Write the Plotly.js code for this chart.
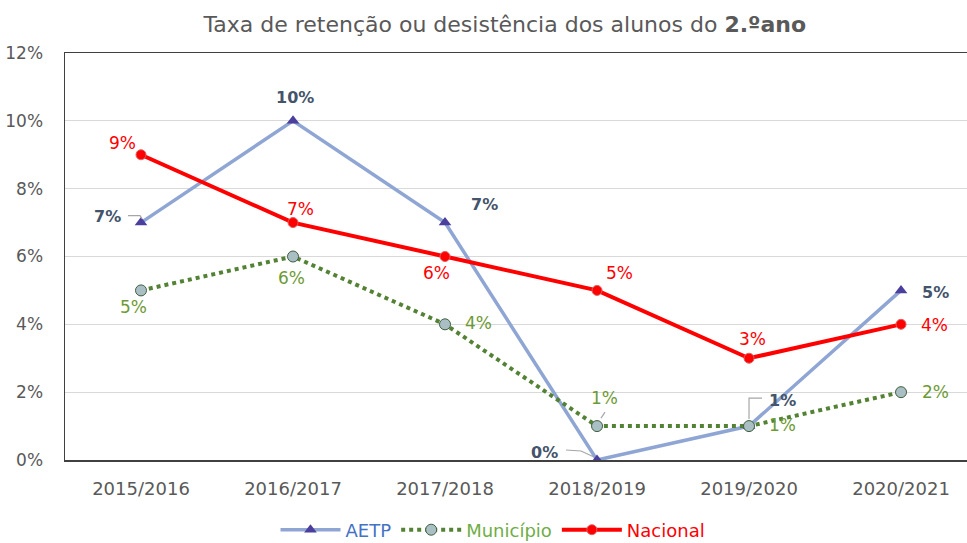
<!DOCTYPE html>
<html><head><meta charset="utf-8">
<script src="https://cdn.plot.ly/plotly-3.0.1.min.js"></script>
<style>html,body{margin:0;padding:0;background:#fff}#c{width:967px;height:543px}</style>
</head><body><div id="c"></div>
<script>
const years = ["2015/2016","2016/2017","2017/2018","2018/2019","2019/2020","2020/2021"];
const aetp = [0.07,0.10,0.07,0.00,0.01,0.05];
const municipio = [0.05,0.06,0.04,0.01,0.01,0.02];
const nacional = [0.09,0.07,0.06,0.05,0.03,0.04];
const aetpLabels = ["7%","10%","7%","0%","1%","5%"];
const munLabels = ["5%","6%","4%","1%","1%","2%"];
const nacLabels = ["9%","7%","6%","5%","3%","4%"];

// label offsets (px) from each point
const aetpOff = [[-34,6],[2,23],[39,18],[-53,8],[33,26],[34,-2]];
const munOff = [[-8,-17],[-2,-21],[33,1],[7,28],[33,1],[34,0]];
const nacOff = [[-19,12],[7,14],[-9,-16],[22,17],[3,19],[33,-1]];

const FONT = "DejaVu Sans, sans-serif";
const traces = [
  {x: years, y: aetp, type:'scatter', mode:'lines+markers', name:'<span style="color:#4472C4">AETP</span>',
   line:{color:'#8FA6D4', width:3.5}, marker:{symbol:'triangle-up', size:11, color:'#4A3F9C'}},
  {x: years, y: municipio, type:'scatter', mode:'lines+markers', name:'<span style="color:#70AD47">Município</span>',
   line:{color:'#548235', width:4, dash:'dot'}, marker:{symbol:'circle', size:11, color:'#A9BFC4', line:{color:'#3E5E3E', width:1}}},
  {x: years, y: nacional, type:'scatter', mode:'lines+markers', name:'<span style="color:#FF0000">Nacional</span>',
   line:{color:'#FF0000', width:4}, marker:{symbol:'circle', size:10, color:'#FF0000', line:{color:'#E06060', width:1}}}
];

const ann = [];
function addLabels(vals, labels, off, color, bold){
  vals.forEach((v,i)=>{
    ann.push({x: years[i], y: v, xref:'x', yref:'y', text: bold ? '<b>'+labels[i]+'</b>' : labels[i],
      showarrow:false, xshift: off[i][0], yshift: off[i][1],
      font:{family:FONT, size:bold?16:17, color:color}});
  });
}
addLabels(aetp, aetpLabels, aetpOff, '#44546A', true);
addLabels(municipio, munLabels, munOff, '#6E9A35', false);
addLabels(nacional, nacLabels, nacOff, '#FF0000', false);

// leader lines: [series values, index, pixel path relative to point]
function leader(vals, i, path){
  return {type:'path', xref:'x', yref:'y', xsizemode:'pixel', ysizemode:'pixel',
    xanchor: years[i], yanchor: vals[i], path: path, line:{color:'#A6A6A6', width:1.2}};
}
const shapes = [
  leader(aetp, 0, 'M-13,7 L-1,7 L1,4'),
  leader(aetp, 3, 'M-31,10 L-16,9 L-3,3'),
  leader(aetp, 4, 'M13,28 L0,28 L0,7'),
  leader(municipio, 3, 'M8,14 L4,8')
];

const layout = {
  width:967, height:543,
  margin:{l:65, r:0, t:53, b:83, autoexpand:false},
  paper_bgcolor:'#fff', plot_bgcolor:'#fff',
  font:{family:FONT, color:'#595959', size:17},
  title:{text:'Taxa de retenção ou desistência dos alunos do <b>2.ºano</b>', xref:'container', x:0.522, xanchor:'center', y:0.955, yanchor:'middle',
    font:{family:FONT, size:22, color:'#595959'}},
  xaxis:{type:'category', range:[-0.5,5.434], showgrid:false, showline:true, linecolor:'#404040', linewidth:1.5, mirror:true,
    ticks:'', ticklabelstandoff:12, tickfont:{family:FONT, size:18, color:'#595959'}},
  yaxis:{range:[0,0.12], dtick:0.02, tickformat:'.0%', showgrid:true, gridcolor:'#D9D9D9', gridwidth:1,
    showline:true, linecolor:'#404040', linewidth:1.5, mirror:true, zeroline:false, ticks:'', ticklabelstandoff:17,
    tickfont:{family:FONT, size:17, color:'#595959'}},
  showlegend:true,
  legend:{orientation:'h', x:0.4745, xanchor:'center', y:-0.172, yanchor:'middle', font:{family:FONT, size:18}, itemwidth:60, tracegroupgap:0},
  annotations: ann,
  shapes: shapes
};
Plotly.newPlot('c', traces, layout, {displayModeBar:false, staticPlot:true});
</script></body></html>
